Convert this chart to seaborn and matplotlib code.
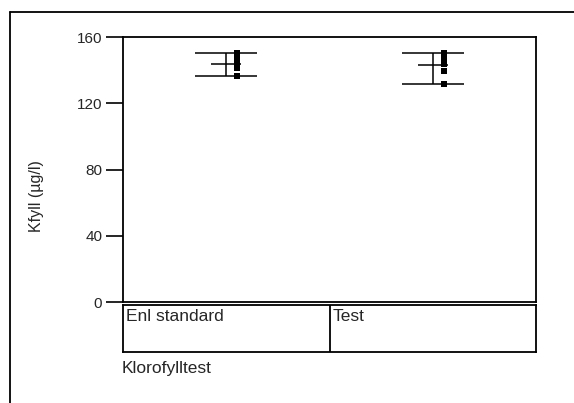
import numpy as np
import pandas as pd
import matplotlib
matplotlib.use("Agg")
import matplotlib.pyplot as plt
import seaborn as sns
from matplotlib.lines import Line2D

categories = ["Enl standard", "Test"]
enl_standard = [150.4, 147.5, 144.0, 142.5, 141.5, 136.4]
test_values = [150.2, 148.0, 146.0, 144.0, 139.6, 131.5]
y_ticks = [0, 40, 80, 120, 160]
y_label = "Kfyll (µg/l)"
x_group_title = "Klorofylltest"

sns.set_style("white")
plt.rcParams['font.family'] = ['Liberation Sans', 'DejaVu Sans']

rows = []
for cat, vals in zip(categories, [enl_standard, test_values]):
    for v in vals:
        rows.append({"cat": cat, "val": v})
df = pd.DataFrame(rows)
df["idx"] = df["cat"].map({c: i for i, c in enumerate(categories)})
df["xpt"] = df["idx"] + 0.053

fig = plt.figure(figsize=(5.74, 4.03), dpi=100)
ax = fig.add_axes([123/574, (403-302)/403, (536-123)/574, (302-37)/403])

sns.scatterplot(data=df, x="xpt", y="val", ax=ax, marker="s", s=16,
                color="black", edgecolor="black", linewidth=0, legend=False)

for i, vals in enumerate([enl_standard, test_values]):
    a = np.array(vals)
    ax.hlines([a.max(), a.min()], i - 0.15, i + 0.15, color="black", lw=1.1)
    ax.hlines(a.mean(), i - 0.073, i + 0.073, color="black", lw=1.1)
    ax.vlines(i, a.min(), a.max(), color="black", lw=1.1)

ax.set_xlim(-0.5, 1.5)
ax.set_ylim(0, 160)
ax.set_yticks(y_ticks)
ax.set_yticklabels([str(t) for t in y_ticks], fontsize=11)
ax.set_xticks([])
ax.set_xlabel("")
ax.set_ylabel(y_label, fontsize=11.5)
ax.yaxis.set_label_coords(-0.192, 0.4)
ax.tick_params(axis="y", direction="out", length=12, width=1.2, color="black", pad=3, left=True)
for sp in ax.spines.values():
    sp.set_color("black")
    sp.set_linewidth(1.3)

# category box
bx = fig.add_axes([123/574, (403-352)/403, (536-123)/574, (352-305)/403])
bx.set_xlim(-0.5, 1.5)
bx.set_ylim(0, 1)
bx.set_xticks([])
bx.set_yticks([])
for sp in bx.spines.values():
    sp.set_color("black")
    sp.set_linewidth(1.3)
bx.axvline(0.5, color="black", lw=1.3)
for i, c in enumerate(categories):
    bx.text(i - 0.485, 0.91, c, ha="left", va="top", fontsize=12.5)

fig.text(122/574, 1 - 368/403, x_group_title, ha="left", va="center", fontsize=12.5)

# outer frame
fig.add_artist(Line2D([10/574, 10/574], [0, 1 - 12/403], transform=fig.transFigure, color="black", lw=1.3))
fig.add_artist(Line2D([10/574, 1], [1 - 12/403, 1 - 12/403], transform=fig.transFigure, color="black", lw=1.3))

fig.savefig("out.png", dpi=100)
